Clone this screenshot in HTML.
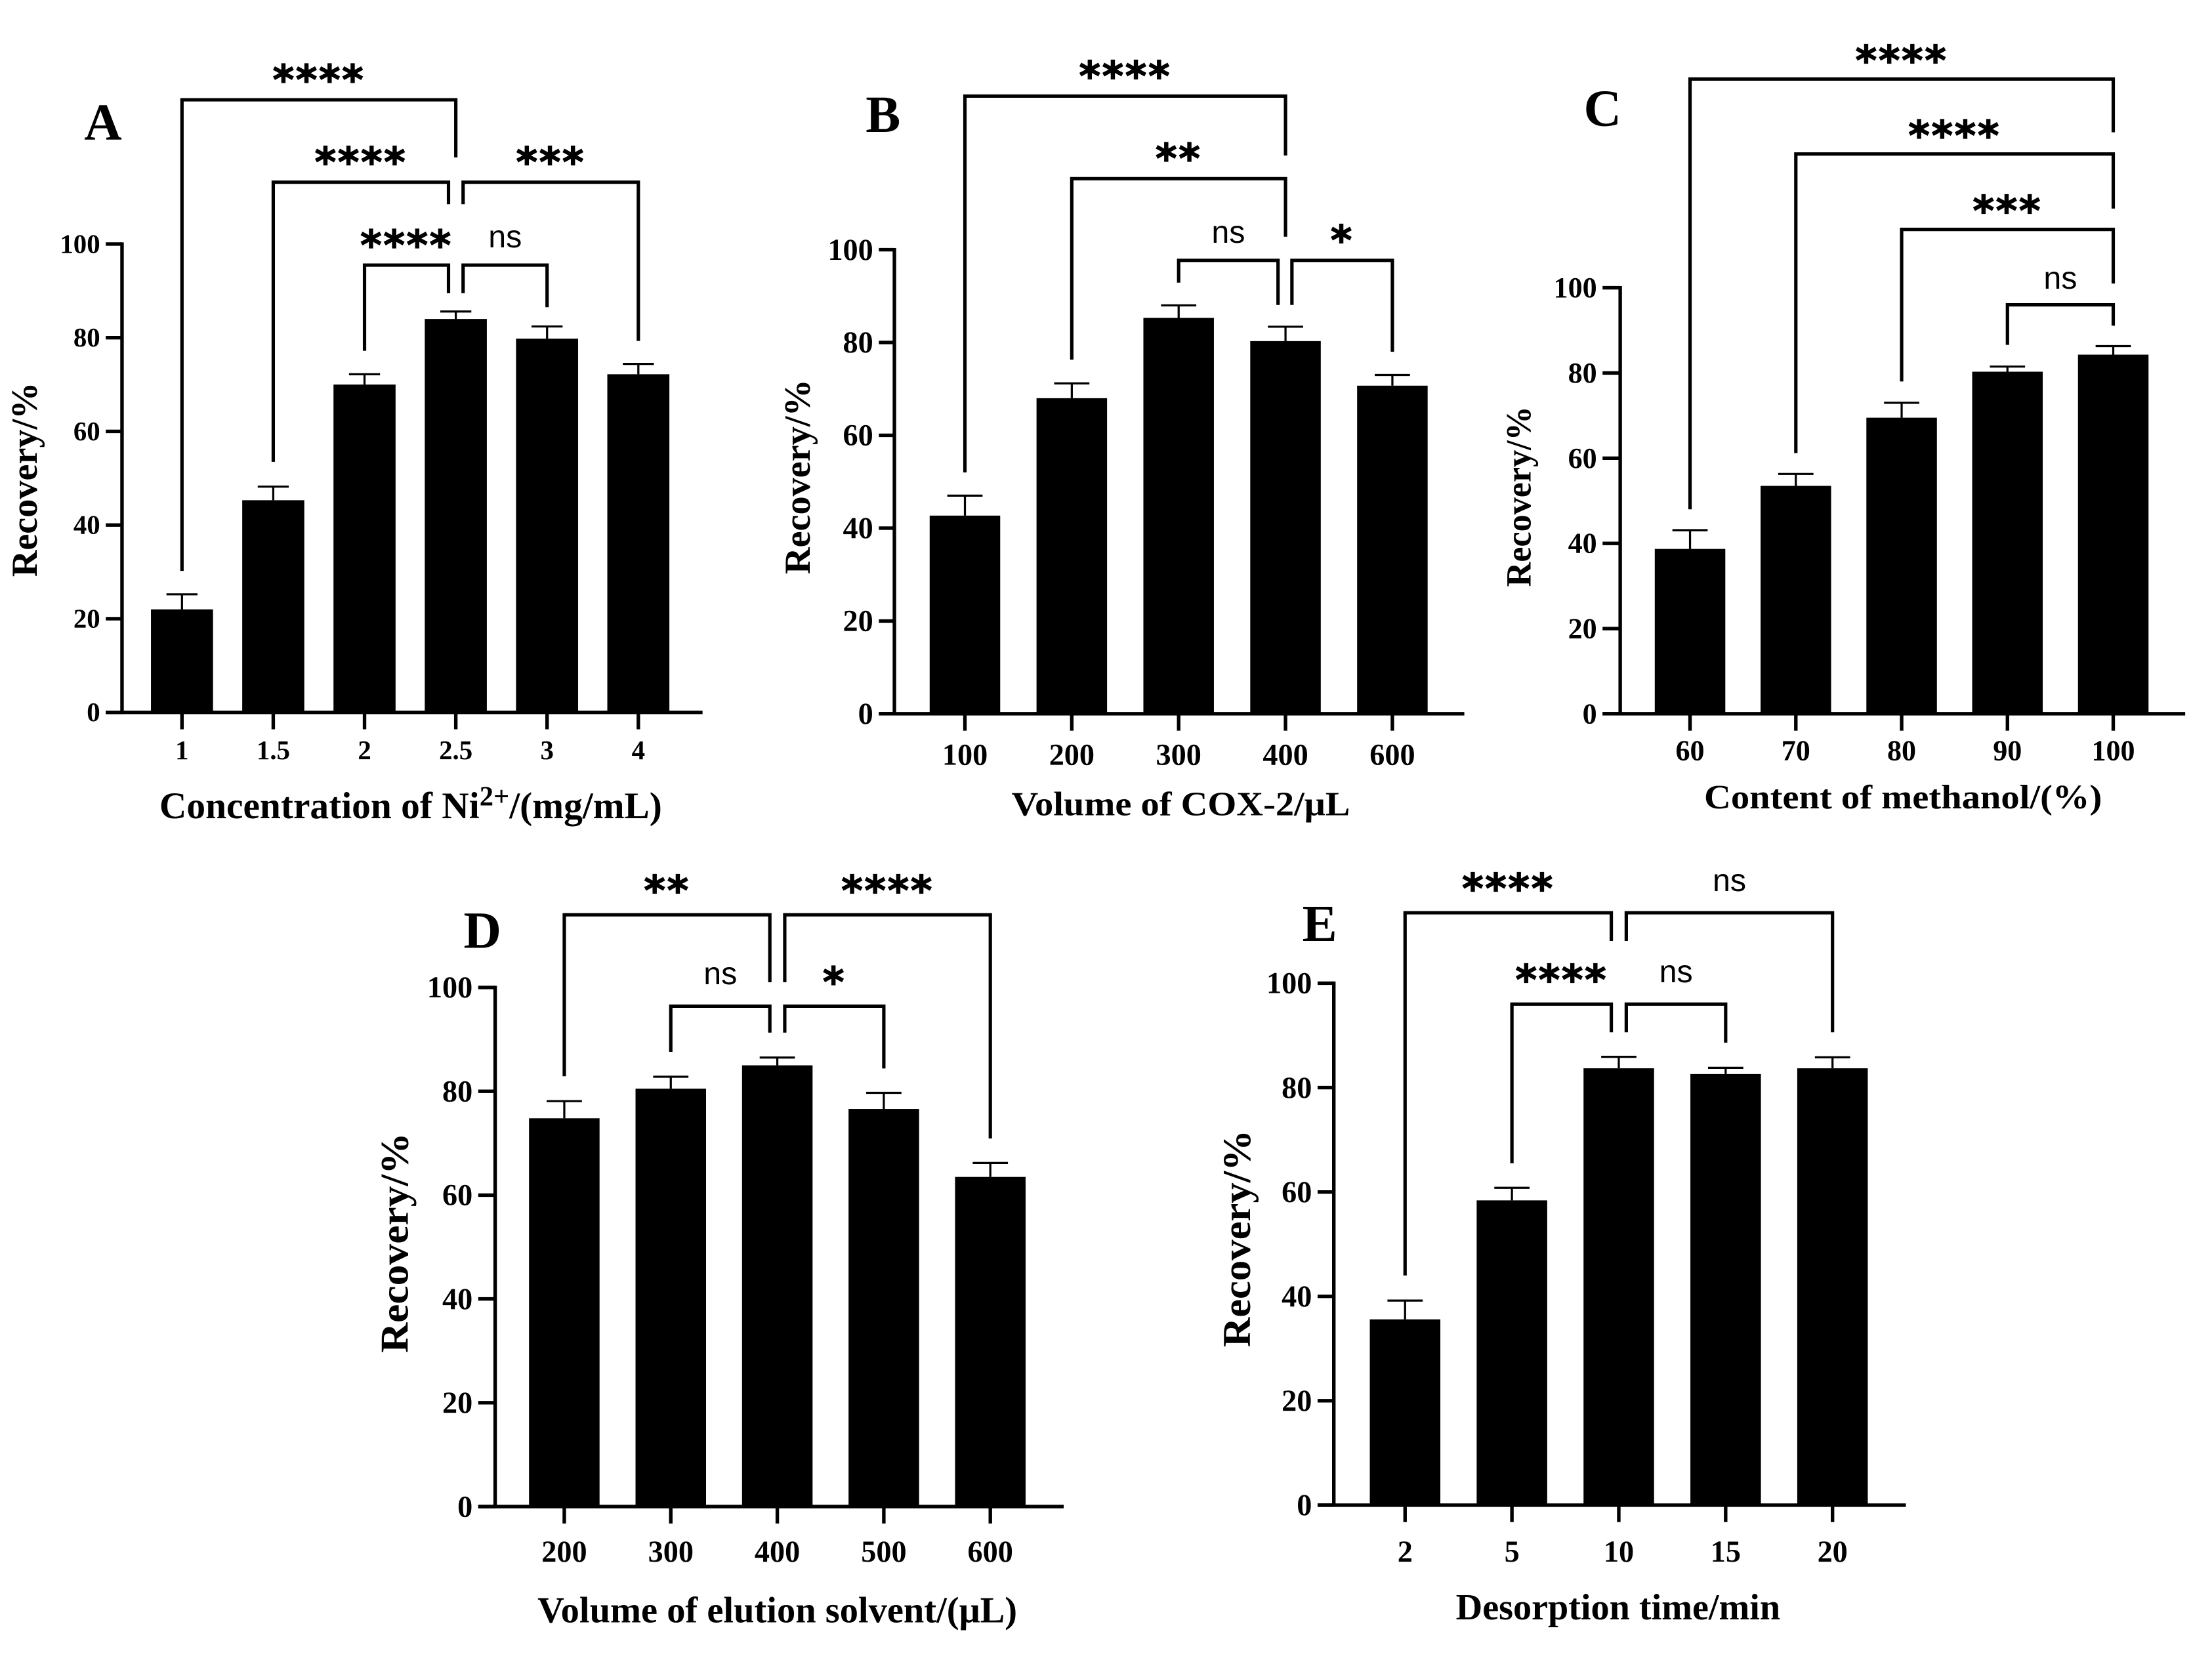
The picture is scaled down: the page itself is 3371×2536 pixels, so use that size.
<!DOCTYPE html>
<html lang="en">
<head>
<meta charset="utf-8">
<title>Recovery optimisation bar charts</title>
<style>
html,body{margin:0;padding:0;background:#fff;}
svg{display:block;}
.serif{font-family:"Liberation Serif",serif;font-weight:bold;fill:#000;}
.sans{font-family:"Liberation Sans",sans-serif;fill:#000;}
.stars{font-family:"DejaVu Sans",sans-serif;font-weight:bold;fill:#000;stroke:#000;stroke-width:0.6;}
</style>
</head>
<body>
<svg id="figure" xmlns="http://www.w3.org/2000/svg" width="3371" height="2536" viewBox="0 0 1568 1179.6">
  <rect x="0" y="0" width="1568" height="1179.6" fill="#fff"/>
  <text class="serif" x="73" y="99" font-size="37" text-anchor="middle">A</text>
  <text class="serif" x="626" y="93.5" font-size="37" text-anchor="middle">B</text>
  <text class="serif" x="1136" y="89" font-size="37" text-anchor="middle">C</text>
  <text class="serif" x="342" y="672" font-size="37" text-anchor="middle">D</text>
  <text class="serif" x="935.5" y="667" font-size="37" text-anchor="middle">E</text>

  <text class="serif" x="113" y="580" font-size="26.7">Concentration of Ni<tspan font-size="19.8" dy="-9">2+</tspan><tspan dy="9">/(mg/mL)</tspan></text>
  <text class="serif" x="717" y="578" font-size="24" textLength="240" lengthAdjust="spacingAndGlyphs">Volume of COX-2/μL</text>
  <text class="serif" x="1208" y="573" font-size="24" textLength="282" lengthAdjust="spacingAndGlyphs">Content of methanol/(%)</text>
  <text class="serif" x="381" y="1150" font-size="26" textLength="340" lengthAdjust="spacingAndGlyphs">Volume of elution solvent/(μL)</text>
  <text class="serif" x="1032" y="1148" font-size="26" textLength="230" lengthAdjust="spacingAndGlyphs">Desorption time/min</text>

  <text class="serif" transform="translate(26,340) rotate(-90)" font-size="26" text-anchor="middle" textLength="138" lengthAdjust="spacingAndGlyphs">Recovery/%</text>
  <text class="serif" transform="translate(574,338) rotate(-90)" font-size="26" text-anchor="middle" textLength="138" lengthAdjust="spacingAndGlyphs">Recovery/%</text>
  <text class="serif" transform="translate(1085,352) rotate(-90)" font-size="25" text-anchor="middle" textLength="128" lengthAdjust="spacingAndGlyphs">Recovery/%</text>
  <text class="serif" transform="translate(289,881) rotate(-90)" font-size="28" text-anchor="middle" textLength="156" lengthAdjust="spacingAndGlyphs">Recovery/%</text>
  <text class="serif" transform="translate(886,878) rotate(-90)" font-size="28" text-anchor="middle" textLength="154" lengthAdjust="spacingAndGlyphs">Recovery/%</text>
</svg>
<script>
// Panel A data
const categoriesA = ['1', '1.5', '2', '2.5', '3', '4'];
const valuesA = [22, 45.3, 70, 84, 79.8, 72.2];
const errorTopsA = [25.2, 48.2, 72.2, 85.6, 82.4, 74.4];
// Panel B data
const categoriesB = ['100', '200', '300', '400', '600'];
const valuesB = [42.7, 68, 85.3, 80.3, 70.7];
const errorTopsB = [47, 71.2, 88, 83.4, 73];
// Panel C data
const categoriesC = ['60', '70', '80', '90', '100'];
const valuesC = [38.7, 53.5, 69.5, 80.3, 84.3];
const errorTopsC = [43.1, 56.3, 73, 81.5, 86.3];
// Panel D data
const categoriesD = ['200', '300', '400', '500', '600'];
const valuesD = [74.8, 80.5, 85, 76.6, 63.5];
const errorTopsD = [78.1, 82.8, 86.5, 79.7, 66.2];
// Panel E data
const categoriesE = ['2', '5', '10', '15', '20'];
const valuesE = [35.6, 58.4, 83.7, 82.6, 83.7];
const errorTopsE = [39.2, 60.8, 85.9, 83.8, 85.8];
// Shared value-axis ticks
const yTicks = [0, 20, 40, 60, 80, 100];
// Significance comparisons: [from category, to category, level, from-arm end, to-arm end, label]
const bracketsA = [
  [0, 3, 130.8, 30.2, 118.5, '****'],
  [1, 2.92, 113.2, 53.5, 108.5, '****'],
  [3.08, 5, 113.2, 108.5, 79.3, '***'],
  [2, 2.92, 95.5, 77.2, 89.5, '****'],
  [3.08, 4, 95.5, 89.5, 86.5, 'ns']
];
const bracketsB = [
  [0, 3, 133.1, 52, 120.3, '****'],
  [1, 3, 115.3, 76.3, 102.8, '**'],
  [2, 2.93, 97.7, 92.9, 88.1, 'ns'],
  [3.06, 4, 97.7, 88.1, 78, '*']
];
const bracketsC = [
  [0, 4, 149, 48, 136.5, '****'],
  [1, 4, 131.4, 61.2, 118.6, '****'],
  [2, 4, 113.7, 78, 101, '***'],
  [3, 4, 96, 86.6, 91.1, 'ns']
];
const bracketsD = [
  [0, 1.93, 114, 82.9, 101, '**'],
  [2.07, 4, 114, 101, 70.9, '****'],
  [1, 1.93, 96.4, 87.6, 91.3, 'ns'],
  [2.07, 3, 96.4, 91.3, 84.4, '*']
];
const bracketsE = [
  [0, 1.93, 113.5, 44, 108.1, '****'],
  [2.07, 4, 113.5, 108.1, 90.6, 'ns'],
  [1, 1.93, 96, 65.5, 90.6, '****'],
  [2.07, 3, 96, 90.6, 88.6, 'ns']
];

const SVG_NS = 'http://www.w3.org/2000/svg';
const figure = document.getElementById('figure');

function make(tag, parent, attrs, text) {
  const node = document.createElementNS(SVG_NS, tag);
  for (const key in attrs) node.setAttribute(key, attrs[key]);
  if (text !== undefined) node.textContent = text;
  parent.appendChild(node);
  return node;
}

function drawPanel(id, categories, values, errorTops, brackets, frame) {
  const xOf = i => frame.firstX + i * frame.stepX;
  const yOf = v => frame.zeroY - v * frame.unitY;

  const group = make('g', figure, {});
  
  

  values.forEach((value, i) => {
    const bar = make('rect', group, {
      x: xOf(i) - frame.barWidth / 2, y: yOf(value),
      width: frame.barWidth, height: yOf(0) - yOf(value), fill: '#000'
    });
    
    

    const stem = make('line', group, {
      x1: xOf(i), x2: xOf(i), y1: yOf(value), y2: yOf(errorTops[i]),
      stroke: '#000', 'stroke-width': 1.5
    });
    
    

    const cap = make('line', group, {
      x1: xOf(i) - frame.barWidth / 4, x2: xOf(i) + frame.barWidth / 4,
      y1: yOf(errorTops[i]), y2: yOf(errorTops[i]),
      stroke: '#000', 'stroke-width': 1.5
    });
    
    
  });

  const yAxis = make('line', group, {
    x1: frame.axisX, x2: frame.axisX, y1: yOf(100) - 1.2, y2: yOf(0) + 1.2,
    stroke: '#000', 'stroke-width': 2.5
  });
  
  

  const xAxis = make('line', group, {
    x1: frame.tickLeft, x2: frame.axisEnd, y1: yOf(0), y2: yOf(0),
    stroke: '#000', 'stroke-width': 2.5
  });
  
  

  yTicks.forEach(tick => {
    const mark = make('line', group, {
      x1: frame.tickLeft, x2: frame.axisX, y1: yOf(tick), y2: yOf(tick),
      stroke: '#000', 'stroke-width': 2.5
    });
    
    

    const label = make('text', group, {
      x: frame.tickLeft - 4, y: yOf(tick) + frame.tickFont * 0.33,
      'font-size': frame.tickFont, 'text-anchor': 'end', class: 'serif'
    }, String(tick));
    
    
  });

  categories.forEach((category, i) => {
    const mark = make('line', group, {
      x1: xOf(i), x2: xOf(i), y1: yOf(0), y2: yOf(0) + 12,
      stroke: '#000', 'stroke-width': 2.5
    });
    
    

    const label = make('text', group, {
      x: xOf(i), y: frame.xLabelY + frame.tickFont * 0.33,
      'font-size': frame.tickFont, 'text-anchor': 'middle', class: 'serif'
    }, category);
    
    
  });

  brackets.forEach((b, i) => {
    const x1 = xOf(b[0]);
    const x2 = xOf(b[1]);
    const yLine = yOf(b[2]);
    const path = make('path', group, {
      d: 'M' + x1 + ' ' + yOf(b[3]) + 'V' + yLine + 'H' + x2 + 'V' + yOf(b[4]),
      fill: 'none', stroke: '#000', 'stroke-width': 2.4
    });
    
    

    const isNs = b[5] === 'ns';
    const label = make('text', group, isNs ? {
      x: (x1 + x2) / 2, y: yLine - 13.5 + frame.labelShift, 'font-size': 22.5,
      'text-anchor': 'middle', class: 'sans'
    } : {
      x: (x1 + x2) / 2, y: yLine - 5 + frame.labelShift, 'font-size': 29,
      'letter-spacing': 1.2, 'text-anchor': 'middle', class: 'stars'
    }, b[5]);
    
    
  });
}

drawPanel('a', categoriesA, valuesA, errorTopsA, bracketsA,
  {firstX: 129, stepX: 64.7, zeroY: 505, unitY: 3.32, barWidth: 44, axisX: 86.5, tickLeft: 75, axisEnd: 498, tickFont: 19, xLabelY: 532, labelShift: 1});
drawPanel('b', categoriesB, valuesB, errorTopsB, bracketsB,
  {firstX: 684, stepX: 75.75, zeroY: 506, unitY: 3.29, barWidth: 50, axisX: 634, tickLeft: 623, axisEnd: 1038, tickFont: 21.5, xLabelY: 535, labelShift: 1});
drawPanel('c', categoriesC, valuesC, errorTopsC, bracketsC,
  {firstX: 1198, stepX: 75, zeroY: 506, unitY: 3.02, barWidth: 50, axisX: 1148.5, tickLeft: 1136, axisEnd: 1549, tickFont: 20.5, xLabelY: 532, labelShift: 2});
drawPanel('d', categoriesD, valuesD, errorTopsD, bracketsD,
  {firstX: 400, stepX: 75.5, zeroY: 1068, unitY: 3.68, barWidth: 50, axisX: 351, tickLeft: 339, axisEnd: 754, tickFont: 21.5, xLabelY: 1100, labelShift: -2});
drawPanel('e', categoriesE, valuesE, errorTopsE, bracketsE,
  {firstX: 996, stepX: 75.75, zeroY: 1067, unitY: 3.7, barWidth: 50, axisX: 945.5, tickLeft: 934, axisEnd: 1351, tickFont: 21.5, xLabelY: 1100, labelShift: -2});
</script>
</body>
</html>
